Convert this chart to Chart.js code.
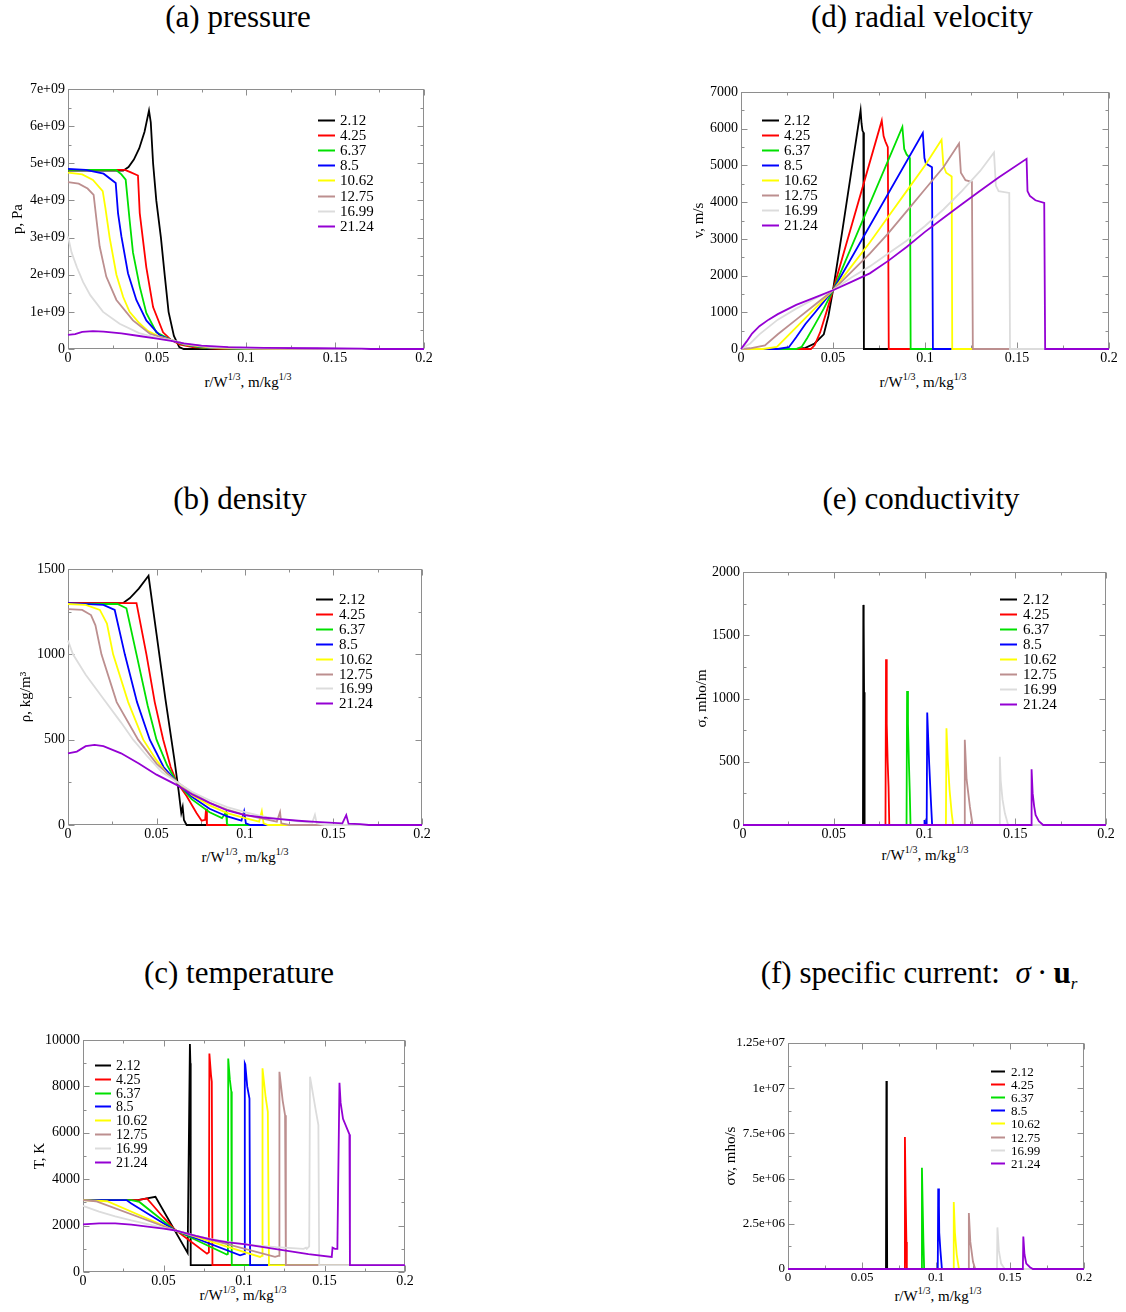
<!DOCTYPE html>
<html>
<head>
<meta charset="utf-8">
<script src="https://cdn.jsdelivr.net/npm/chart.js@4.4.1/dist/chart.umd.min.js"></script>
<style>
  body { margin: 0; background: #fff; }
  #page { position: relative; width: 1126px; height: 1312px; overflow: hidden;
          font-family: "Liberation Serif", "Times New Roman", serif; color: #000; }
  canvas { position: absolute; }
  .ptitle { position: absolute; width: 400px; text-align: center; font-size: 31px;
            line-height: 34px; white-space: nowrap; }
  .ptitle sub { font-size: 17px; vertical-align: -6px; line-height: 0; }
  .xtitle { position: absolute; width: 200px; text-align: center; font-size: 15px;
            line-height: 18px; white-space: nowrap; }
  .xtitle sup { font-size: 10px; vertical-align: 7px; line-height: 0; }
</style>
</head>
<body>
<div id="page"></div>
<script>
// explosion times (legend labels)
const times = ['2.12', '4.25', '6.37', '8.5', '10.62', '12.75', '16.99', '21.24'];
const lineColors = ['#000000', '#ff0000', '#00e000', '#0000ff', '#ffff00', '#bc8f8f', '#dcdcdc', '#9400d3'];

const xTickValues = [0, 0.05, 0.1, 0.15, 0.2];
const pressureTicks = [0, 1e9, 2e9, 3e9, 4e9, 5e9, 6e9, 7e9];
const velocityTicks = [0, 1000, 2000, 3000, 4000, 5000, 6000, 7000];
const densityTicks = [0, 500, 1000, 1500];
const conductivityTicks = [0, 500, 1000, 1500, 2000];
const temperatureTicks = [0, 2000, 4000, 6000, 8000, 10000];
const currentTicks = [0, 2.5e6, 5e6, 7.5e6, 1e7, 1.25e7];

// [r/W^1/3, value] per series, in the order of times[]
const pressure = [
  [[0,4.8e9],[0.031,4.8e9],[0.034,4.9e9],[0.037,5.1e9],[0.04,5.4e9],[0.043,5.85e9],[0.0455,6.42e9],[0.0465,6.1e9],[0.0478,5.0e9],[0.0496,4.0e9],[0.0522,3.0e9],[0.0543,2.0e9],[0.0565,1.0e9],[0.0595,0.35e9],[0.0625,0.05e9],[0.065,0],[0.2,0]],
  [[0,4.82e9],[0.032,4.82e9],[0.035,4.76e9],[0.0393,4.67e9],[0.0403,3.66e9],[0.044,2.2e9],[0.0478,1.13e9],[0.0534,0.45e9],[0.058,0.24e9],[0.063,0.12e9],[0.07,0.05e9],[0.08,0.015e9],[0.09,0],[0.2,0]],
  [[0,4.82e9],[0.027,4.82e9],[0.03,4.7e9],[0.0324,4.56e9],[0.0346,3.48e9],[0.0365,2.6e9],[0.0403,1.68e9],[0.044,0.97e9],[0.0496,0.45e9],[0.058,0.24e9],[0.065,0.12e9],[0.075,0.04e9],[0.09,0.01e9],[0.1,0],[0.2,0]],
  [[0,4.85e9],[0.01,4.82e9],[0.02,4.72e9],[0.0268,4.47e9],[0.0281,3.66e9],[0.03,3.03e9],[0.0337,2.04e9],[0.0384,1.32e9],[0.044,0.77e9],[0.0515,0.37e9],[0.058,0.24e9],[0.066,0.11e9],[0.08,0.03e9],[0.1,0.01e9],[0.11,0],[0.2,0]],
  [[0,4.75e9],[0.008,4.7e9],[0.014,4.55e9],[0.0195,4.25e9],[0.021,3.8e9],[0.0234,3.0e9],[0.0272,2.0e9],[0.031,1.4e9],[0.0346,1.0e9],[0.04,0.7e9],[0.045,0.48e9],[0.051,0.34e9],[0.058,0.24e9],[0.066,0.12e9],[0.08,0.04e9],[0.1,0.01e9],[0.12,0],[0.2,0]],
  [[0,4.49e9],[0.006,4.45e9],[0.011,4.32e9],[0.0144,4.15e9],[0.016,3.48e9],[0.0178,2.76e9],[0.0215,1.95e9],[0.0272,1.32e9],[0.0365,0.77e9],[0.046,0.41e9],[0.058,0.24e9],[0.066,0.13e9],[0.08,0.05e9],[0.1,0.02e9],[0.13,0],[0.2,0]],
  [[0,3.03e9],[0.002,2.6e9],[0.005,2.2e9],[0.0085,1.8e9],[0.0125,1.45e9],[0.0197,1.0e9],[0.029,0.68e9],[0.04,0.43e9],[0.05,0.3e9],[0.058,0.24e9],[0.066,0.14e9],[0.08,0.06e9],[0.1,0.025e9],[0.14,0.01e9],[0.16,0],[0.2,0]],
  [[0,0.38e9],[0.004,0.4e9],[0.008,0.46e9],[0.014,0.48e9],[0.02,0.47e9],[0.03,0.42e9],[0.04,0.35e9],[0.05,0.28e9],[0.058,0.22e9],[0.065,0.15e9],[0.075,0.09e9],[0.09,0.05e9],[0.11,0.03e9],[0.14,0.02e9],[0.165,0.01e9],[0.17,0],[0.2,0]]
];

const velocity = [
  [[0,0],[0.03,0],[0.035,30],[0.04,150],[0.045,400],[0.0475,900],[0.05,1600],[0.055,3200],[0.06,4850],[0.065,6500],[0.0655,6150],[0.066,5950],[0.0665,5900],[0.0668,0],[0.2,0]],
  [[0,0],[0.038,0],[0.04,100],[0.043,450],[0.047,1100],[0.05,1600],[0.0765,6220],[0.0775,5800],[0.0785,5650],[0.0798,5500],[0.0803,0],[0.2,0]],
  [[0,0],[0.03,0],[0.033,60],[0.036,300],[0.04,650],[0.045,1100],[0.05,1600],[0.0877,6050],[0.0887,5450],[0.09,5300],[0.0918,5200],[0.0922,0],[0.2,0]],
  [[0,0],[0.02,0],[0.026,50],[0.03,320],[0.035,680],[0.04,980],[0.045,1290],[0.05,1600],[0.0988,5880],[0.0997,5200],[0.1005,5050],[0.1038,4950],[0.1043,0],[0.2,0]],
  [[0,0],[0.012,0],[0.0195,60],[0.05,1600],[0.06,2250],[0.07,2900],[0.08,3600],[0.09,4300],[0.1,5000],[0.109,5700],[0.11,5000],[0.1115,4800],[0.1145,4700],[0.1148,0],[0.2,0]],
  [[0,0],[0.005,20],[0.013,100],[0.02,400],[0.03,800],[0.04,1200],[0.05,1600],[0.06,2100],[0.07,2600],[0.08,3150],[0.09,3750],[0.1,4350],[0.11,4950],[0.1185,5600],[0.1195,4800],[0.122,4600],[0.1255,4550],[0.126,0],[0.2,0]],
  [[0,0],[0.005,150],[0.01,400],[0.02,800],[0.03,1100],[0.04,1370],[0.05,1600],[0.06,1950],[0.07,2250],[0.08,2600],[0.09,2950],[0.1,3350],[0.11,3800],[0.12,4300],[0.13,4850],[0.1375,5350],[0.1385,4450],[0.14,4300],[0.1458,4250],[0.1462,0],[0.2,0]],
  [[0,0],[0.003,200],[0.006,420],[0.01,620],[0.015,800],[0.02,950],[0.03,1200],[0.04,1400],[0.05,1600],[0.06,1830],[0.07,2060],[0.08,2400],[0.09,2780],[0.1,3190],[0.11,3570],[0.12,3940],[0.13,4310],[0.14,4670],[0.1552,5180],[0.1557,4300],[0.157,4170],[0.16,4050],[0.1648,3980],[0.1653,0],[0.2,0]]
];

const density = [
  [[0,1300],[0.031,1300],[0.035,1330],[0.04,1385],[0.0455,1460],[0.05,1120],[0.055,740],[0.06,390],[0.0625,200],[0.064,70],[0.0648,105],[0.0655,30],[0.067,0],[0.2,0]],
  [[0,1300],[0.0387,1300],[0.0443,1000],[0.049,720],[0.0538,500],[0.058,340],[0.0613,254],[0.067,170],[0.0726,70],[0.0755,25],[0.0775,30],[0.078,95],[0.0785,0],[0.2,0]],
  [[0,1295],[0.028,1295],[0.033,1270],[0.0387,1000],[0.045,700],[0.05,500],[0.056,350],[0.0613,254],[0.07,150],[0.08,75],[0.087,40],[0.0893,75],[0.0898,5],[0.091,0],[0.2,0]],
  [[0,1300],[0.02,1290],[0.0264,1260],[0.0321,1000],[0.039,720],[0.0462,500],[0.054,340],[0.0613,254],[0.07,165],[0.08,95],[0.09,50],[0.098,25],[0.0995,80],[0.1005,10],[0.103,0],[0.2,0]],
  [[0,1295],[0.01,1290],[0.018,1260],[0.022,1180],[0.0255,1000],[0.034,720],[0.0425,500],[0.05,380],[0.056,300],[0.0613,254],[0.07,175],[0.08,115],[0.09,70],[0.1,40],[0.108,20],[0.1095,80],[0.1105,10],[0.113,0],[0.2,0]],
  [[0,1265],[0.008,1260],[0.013,1230],[0.0155,1170],[0.0189,1000],[0.0275,720],[0.0396,500],[0.05,360],[0.0613,254],[0.07,190],[0.08,130],[0.09,90],[0.1,60],[0.11,38],[0.118,20],[0.1198,75],[0.1205,10],[0.125,0],[0.2,0]],
  [[0,1080],[0.0028,1000],[0.01,880],[0.02,740],[0.03,600],[0.0368,500],[0.045,400],[0.053,310],[0.0613,254],[0.07,195],[0.08,145],[0.09,105],[0.1,75],[0.11,50],[0.12,35],[0.13,22],[0.138,15],[0.1395,60],[0.1405,10],[0.145,0],[0.2,0]],
  [[0,420],[0.005,430],[0.01,462],[0.015,470],[0.02,462],[0.03,420],[0.04,360],[0.05,295],[0.0613,235],[0.07,180],[0.08,130],[0.09,85],[0.1,58],[0.11,44],[0.12,34],[0.13,25],[0.14,18],[0.155,10],[0.1572,58],[0.1585,8],[0.165,5],[0.17,0],[0.2,0]]
];

const conductivity = [
  [[0,0],[0.0661,0],[0.0663,1740],[0.0665,1600],[0.0667,1050],[0.0669,780],[0.0671,0],[0.2,0]],
  [[0,0],[0.0785,0],[0.0788,1310],[0.0792,800],[0.0797,500],[0.0802,300],[0.0806,0],[0.2,0]],
  [[0,0],[0.0901,0],[0.0904,1060],[0.0909,800],[0.0914,500],[0.0919,250],[0.0923,0],[0.2,0]],
  [[0,0],[0.0998,0],[0.1,40],[0.1003,0],[0.1012,0],[0.1015,890],[0.102,700],[0.1026,480],[0.1035,200],[0.1042,0],[0.2,0]],
  [[0,0],[0.1118,0],[0.1121,765],[0.1128,520],[0.1138,280],[0.115,90],[0.1158,0],[0.2,0]],
  [[0,0],[0.1219,0],[0.1222,673],[0.1232,360],[0.125,145],[0.1265,0],[0.2,0]],
  [[0,0],[0.1412,0],[0.1415,540],[0.142,350],[0.143,200],[0.1443,92],[0.1461,0],[0.2,0]],
  [[0,0],[0.1587,0],[0.159,441],[0.1596,250],[0.1604,150],[0.1612,80],[0.163,30],[0.1654,0],[0.2,0]]
];

const temperature = [
  [[0,3100],[0.034,3100],[0.045,3240],[0.065,820],[0.0664,9830],[0.0667,9000],[0.0669,300],[0.2,300]],
  [[0,3100],[0.035,3110],[0.0397,3170],[0.05,2350],[0.0567,1850],[0.077,790],[0.0782,850],[0.0785,9420],[0.0795,8500],[0.08,8200],[0.0804,300],[0.2,300]],
  [[0,3100],[0.03,3100],[0.035,3020],[0.0567,1820],[0.0893,750],[0.09,780],[0.0902,9200],[0.0912,8300],[0.0921,7780],[0.0924,300],[0.2,300]],
  [[0,3100],[0.027,3100],[0.03,2950],[0.0567,1810],[0.0976,720],[0.1003,780],[0.1005,9000],[0.1008,8950],[0.102,8000],[0.1034,7480],[0.1038,300],[0.2,300]],
  [[0,3100],[0.015,3050],[0.0567,1800],[0.11,650],[0.1112,700],[0.1115,8780],[0.1135,7500],[0.1148,6900],[0.1155,300],[0.2,300]],
  [[0,3100],[0.008,3050],[0.0567,1800],[0.1193,650],[0.1218,700],[0.122,8630],[0.124,7400],[0.1255,6760],[0.126,300],[0.2,300]],
  [[0,2850],[0.01,2600],[0.02,2400],[0.03,2220],[0.04,2060],[0.05,1900],[0.0567,1800],[0.07,1560],[0.08,1420],[0.09,1300],[0.1,1200],[0.11,1130],[0.12,1070],[0.13,1030],[0.137,1000],[0.1385,1050],[0.139,1000],[0.1405,1100],[0.141,8420],[0.1445,7000],[0.1462,6330],[0.1467,300],[0.2,300]],
  [[0,2050],[0.01,2100],[0.02,2100],[0.03,2040],[0.04,1960],[0.05,1870],[0.0567,1800],[0.07,1560],[0.08,1400],[0.09,1280],[0.1,1200],[0.11,1090],[0.12,990],[0.13,880],[0.14,770],[0.1545,650],[0.155,1050],[0.1565,1000],[0.158,1000],[0.1584,3300],[0.1593,8160],[0.16,7300],[0.1615,6600],[0.1655,5930],[0.1658,300],[0.2,300]]
];

const current = [
  [[0,0],[0.0662,0],[0.0665,1.04e7],[0.0668,5.6e6],[0.067,0],[0.2,0]],
  [[0,0],[0.0787,0],[0.079,7.3e6],[0.0795,4.0e6],[0.08,1.5e6],[0.0803,0],[0.2,0]],
  [[0,0],[0.0902,0],[0.0905,5.6e6],[0.091,3.5e6],[0.0915,1.5e6],[0.092,0],[0.2,0]],
  [[0,0],[0.1012,0],[0.1015,4.45e6],[0.102,3.5e6],[0.1022,2.0e6],[0.103,1.0e6],[0.104,0],[0.2,0]],
  [[0,0],[0.1117,0],[0.112,3.7e6],[0.1128,2.0e6],[0.114,0.8e6],[0.1155,0],[0.2,0]],
  [[0,0],[0.122,0],[0.1222,3.1e6],[0.1232,1.5e6],[0.125,0.4e6],[0.1265,0],[0.2,0]],
  [[0,0],[0.1412,0],[0.1415,2.3e6],[0.1425,1.0e6],[0.144,0.3e6],[0.1465,0],[0.2,0]],
  [[0,0],[0.1587,0],[0.159,1.8e6],[0.1598,0.8e6],[0.161,0.3e6],[0.1635,0.1e6],[0.1655,0],[0.2,0]]
];

function expLabel(v) {
  if (v === 0) return '0';
  const parts = v.toExponential().split('e');
  const n = parseInt(parts[1], 10);
  return parts[0] + 'e' + (n < 0 ? '-' : '+') + String(Math.abs(n)).padStart(2, '0');
}
const plainLabel = v => String(v);

// grace-style box with inward major/minor ticks on all four sides
const frameTicks = {
  id: 'frameTicks',
  beforeDatasetsDraw(chart) {
    const { ctx, chartArea: a, scales: { x, y } } = chart;
    const l = Math.round(a.left) + 0.5, r = Math.round(a.right) - 0.5;
    const t = Math.round(a.top) + 0.5, b = Math.round(a.bottom) - 0.5;
    const marks = scale => {
      const v = scale.ticks.map(tk => tk.value);
      const out = v.map(val => [val, 6]);
      for (let i = 0; i < v.length - 1; i++) out.push([(v[i] + v[i + 1]) / 2, 3]);
      return out;
    };
    ctx.save();
    ctx.strokeStyle = '#8e8e8e';
    ctx.lineWidth = 1;
    ctx.strokeRect(l, t, r - l, b - t);
    ctx.beginPath();
    marks(x).forEach(([v, len]) => {
      const px = Math.round(x.getPixelForValue(v)) + 0.5;
      ctx.moveTo(px, b); ctx.lineTo(px, b - len);
      ctx.moveTo(px, t); ctx.lineTo(px, t + len);
    });
    marks(y).forEach(([v, len]) => {
      const py = Math.round(y.getPixelForValue(v)) + 0.5;
      ctx.moveTo(l, py); ctx.lineTo(l + len, py);
      ctx.moveTo(r, py); ctx.lineTo(r - len, py);
    });
    ctx.stroke();
    ctx.restore();
  }
};

// legend drawn inside the plot box
const insideLegend = {
  id: 'insideLegend',
  afterDraw(chart, args, o) {
    const { ctx, chartArea: a } = chart;
    ctx.save();
    ctx.font = o.size + 'px "Liberation Serif", "Times New Roman", serif';
    ctx.textBaseline = 'middle';
    ctx.textAlign = 'left';
    chart.data.datasets.forEach((ds, i) => {
      const yy = Math.round(a.top + o.y + i * o.gap) + 0.5;
      ctx.strokeStyle = ds.borderColor;
      ctx.lineWidth = 2;
      ctx.beginPath();
      ctx.moveTo(a.left + o.x, yy);
      ctx.lineTo(a.left + o.x + o.len, yy);
      ctx.stroke();
      ctx.fillStyle = '#000';
      ctx.fillText(ds.label, a.left + o.x + o.len + o.pad, yy + 1);
    });
    ctx.restore();
  }
};

const panels = [
  { title: '(a) pressure', tc: [238, 17], series: pressure, yTicks: pressureTicks, fmt: expLabel, yTitle: 'p, Pa',
    area: [68, 89, 424, 349], ytx: 18, xt: [248, 382], tickSize: 14,
    legend: { x: 250, y: 31, gap: 15.1, len: 17, pad: 5, size: 15 } },
  { title: '(d) radial velocity', tc: [922, 17], series: velocity, yTicks: velocityTicks, fmt: plainLabel, yTitle: 'v, m/s',
    area: [741, 92, 1109, 349], ytx: 699, xt: [923, 382], tickSize: 14,
    legend: { x: 21, y: 28, gap: 15, len: 17, pad: 5, size: 15 } },
  { title: '(b) density', tc: [240, 499], series: density, yTicks: densityTicks, fmt: plainLabel, yTitle: 'ρ, kg/m³',
    area: [68, 569, 422, 825], ytx: 26, xt: [245, 857], tickSize: 14,
    legend: { x: 248, y: 30, gap: 14.9, len: 17, pad: 6, size: 15 } },
  { title: '(e) conductivity', tc: [921, 499], series: conductivity, yTicks: conductivityTicks, fmt: plainLabel, yTitle: 'σ, mho/m',
    area: [743, 572, 1106, 825], ytx: 702, xt: [925, 855], tickSize: 14,
    legend: { x: 257, y: 27, gap: 15, len: 17, pad: 6, size: 15 } },
  { title: '(c) temperature', tc: [239, 973], series: temperature, yTicks: temperatureTicks, fmt: plainLabel, yTitle: 'T, K',
    area: [83, 1040, 405, 1272], ytx: 40, xt: [243, 1295], tickSize: 14,
    legend: { x: 12, y: 25, gap: 13.8, len: 16, pad: 5, size: 14 } },
  { title: '(f) specific current:&nbsp; <i>σ</i>&thinsp;·&thinsp;<b>u</b><sub><i>r</i></sub>', tc: [919, 973], series: current, yTicks: currentTicks, fmt: expLabel, yTitle: 'σv, mho/s',
    area: [788, 1043, 1084, 1269], ytx: 731, xt: [938, 1296], tickSize: 13,
    legend: { x: 203, y: 28, gap: 13.1, len: 14, pad: 6, size: 13 } }
];

const page = document.getElementById('page');
Chart.defaults.font.family = '"Liberation Serif", "Times New Roman", serif';
Chart.defaults.color = '#000';

panels.forEach(p => {
  const [L, T, R, B] = p.area;
  const left = Math.round(p.ytx - 9);
  const top = T - 20;
  const xAxisH = 26;

  const title = document.createElement('div');
  title.className = 'ptitle';
  title.innerHTML = p.title;
  title.style.left = (p.tc[0] - 200) + 'px';
  title.style.top = (p.tc[1] - 17) + 'px';
  page.appendChild(title);

  const xt = document.createElement('div');
  xt.className = 'xtitle';
  xt.innerHTML = 'r/W<sup>1/3</sup>, m/kg<sup>1/3</sup>';
  xt.style.left = (p.xt[0] - 100) + 'px';
  xt.style.top = (p.xt[1] - 9) + 'px';
  page.appendChild(xt);

  const canvas = document.createElement('canvas');
  canvas.width = R - left + 20;
  canvas.height = B - top + xAxisH;
  canvas.style.left = left + 'px';
  canvas.style.top = top + 'px';
  page.appendChild(canvas);

  new Chart(canvas, {
    type: 'scatter',
    data: {
      datasets: p.series.map((pts, i) => ({
        label: times[i],
        data: pts.map(([x, y]) => ({ x, y })),
        borderColor: lineColors[i],
        backgroundColor: lineColors[i],
        showLine: true,
        pointRadius: 0,
        borderWidth: 1.8,
        order: -i,
        clip: 3
      }))
    },
    options: {
      responsive: false,
      animation: false,
      events: [],
      layout: { padding: { top: 20, right: 20, left: 0, bottom: 0 } },
      plugins: {
        legend: { display: false },
        tooltip: { enabled: false },
        insideLegend: p.legend
      },
      scales: {
        x: {
          type: 'linear', min: 0, max: 0.2,
          grid: { display: false, drawTicks: false },
          border: { display: false },
          afterBuildTicks: s => { s.ticks = xTickValues.map(v => ({ value: v })); },
          afterFit: s => { s.height = xAxisH; },
          ticks: { padding: 1, autoSkip: false, maxRotation: 0, font: { size: p.tickSize },
                   callback: v => v === 0 ? '0' : String(+v.toFixed(2)) }
        },
        y: {
          type: 'linear', min: p.yTicks[0], max: p.yTicks[p.yTicks.length - 1],
          grid: { display: false, drawTicks: false },
          border: { display: false },
          afterBuildTicks: s => { s.ticks = p.yTicks.map(v => ({ value: v })); },
          afterFit: s => { s.width = L - left; },
          ticks: { padding: 3, autoSkip: false, font: { size: p.tickSize }, callback: v => p.fmt(v) },
          title: { display: true, text: p.yTitle, font: { size: 15 }, padding: { top: 0, bottom: 0 } }
        }
      }
    },
    plugins: [frameTicks, insideLegend]
  });
});
</script>
</body>
</html>
